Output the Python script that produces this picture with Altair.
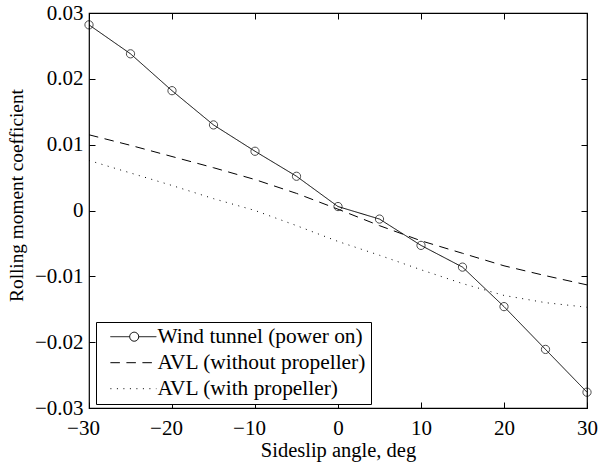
import altair as alt
import pandas as pd

# ---- data ----
beta = [-30, -25, -20, -15, -10, -5, 0, 5, 10, 15, 20, 25, 30]
wind_tunnel = [0.0282, 0.0238, 0.0182, 0.0130, 0.0090, 0.0052, 0.0006,
               -0.0013, -0.0053, -0.0086, -0.0146, -0.0211, -0.0276]
avl_without = [0.0115, 0.0099, 0.0082, 0.0065, 0.0047, 0.0026, 0.0002,
               -0.0023, -0.0046, -0.0065, -0.0084, -0.0099, -0.0113]
avl_with = [0.0076, 0.0057, 0.0038, 0.0018, 0.0000, -0.0023, -0.0047,
            -0.0068, -0.0090, -0.0111, -0.0129, -0.0140, -0.0147]
series_names = ["Wind tunnel (power on)", "AVL (without propeller)", "AVL (with propeller)"]
x_ticks = [-30, -20, -10, 0, 10, 20, 30]
y_ticks = [-0.03, -0.02, -0.01, 0, 0.01, 0.02, 0.03]

rows = []
for name, vals in zip(series_names, [wind_tunnel, avl_without, avl_with]):
    for b, v in zip(beta, vals):
        rows.append({"series": name, "beta": b, "cl": v})
df = pd.DataFrame(rows)

# ---- styles ----
FONT = "Liberation Serif"
W, H = 498, 395
dashes = [[1, 0], [9.5, 6.5], [1, 5.5]]

x_scale = alt.Scale(domain=[-30, 30], nice=False, zero=False)
y_scale = alt.Scale(domain=[-0.03, 0.03], nice=False, zero=False)
dash_scale = alt.Scale(domain=series_names, range=dashes)
wt_path = "M-0.06,0H3.8M5.6,0H9.14M3.8,0A0.9,0.9 0 1,1 5.6,0A0.9,0.9 0 1,1 3.8,0"
ln_path = "M-0.06,0H9.14"
shape_scale = alt.Scale(domain=series_names, range=[wt_path, ln_path, ln_path])

common = dict(grid=False, domain=False, ticks=True, tickSize={"expr": "-6"},
              tickColor="black", tickWidth=1, labelFont=FONT, labelFontSize=21,
              labelColor="black", labelFlush=False, titleFont=FONT,
              titleColor="black", titleFontWeight="normal")

x_bottom = alt.Axis(orient="bottom", values=x_ticks, format="d", labelPadding=15,
                    labelOffset={"condition": {"test": "datum.value < 0", "value": -6},
                                 "value": 0},
                    title="Sideslip angle, deg", titleFontSize=20.5, titlePadding=2,
                    **common)
y_left = alt.Axis(orient="left", values=y_ticks, format=".2~f", labelPadding=12,
                  title="Rolling moment coefficient", titleFontSize=19.3,
                  titlePadding=8, titleY=182, **common)
x_top = alt.Axis(orient="top", values=x_ticks, labels=False, title=None, **common)
y_right = alt.Axis(orient="right", values=y_ticks, labels=False, title=None, **common)

legend = alt.Legend(orient="none", legendX=7, legendY=309, title=None,
                    labelFont=FONT, labelFontSize=21.4, labelColor="black", labelLimit=0,
                    symbolSize=100, symbolStrokeWidth=1, symbolStrokeColor="black",
                    symbolFillColor="transparent", symbolOpacity=1, strokeColor="black",
                    fillColor="white", padding=4, rowPadding=3, labelOffset=36)

layers = []
for i, name in enumerate(series_names):
    layers.append(
        alt.Chart(df).transform_filter(alt.datum.series == name)
        .mark_line(color="black", strokeWidth=1, strokeDash=dashes[i])
        .encode(
            x=alt.X("beta:Q", scale=x_scale, axis=x_bottom if i == 0 else None),
            y=alt.Y("cl:Q", scale=y_scale, axis=y_left if i == 0 else None),
            order="beta:Q",
        )
    )

markers = alt.Chart(df).transform_filter(
    alt.datum.series == series_names[0]
).mark_point(shape="circle", size=68, filled=False, color="black", strokeWidth=1).encode(
    x=alt.X("beta:Q", scale=x_scale, axis=x_top),
    y=alt.Y("cl:Q", scale=y_scale, axis=y_right),
)

legend_layer = alt.Chart(df).mark_point(
    color="black", filled=False, strokeWidth=1, opacity=0
).encode(
    x=alt.X("beta:Q", scale=x_scale, axis=None),
    y=alt.Y("cl:Q", scale=y_scale, axis=None),
    shape=alt.Shape("series:N", scale=shape_scale, legend=legend),
    strokeDash=alt.StrokeDash("series:N", scale=dash_scale, legend=legend),
)

chart = alt.layer(*layers, markers, legend_layer).resolve_axis(
    x="independent", y="independent"
).properties(
    width=W, height=H,
    autosize=alt.AutoSizeParams(type="none"),
    padding={"left": 89, "top": 13, "right": 11, "bottom": 55},
    background="white",
).configure_view(stroke="black", strokeWidth=1.2)

chart.save("out.html", embed_options={"renderer": "svg", "actions": False})
